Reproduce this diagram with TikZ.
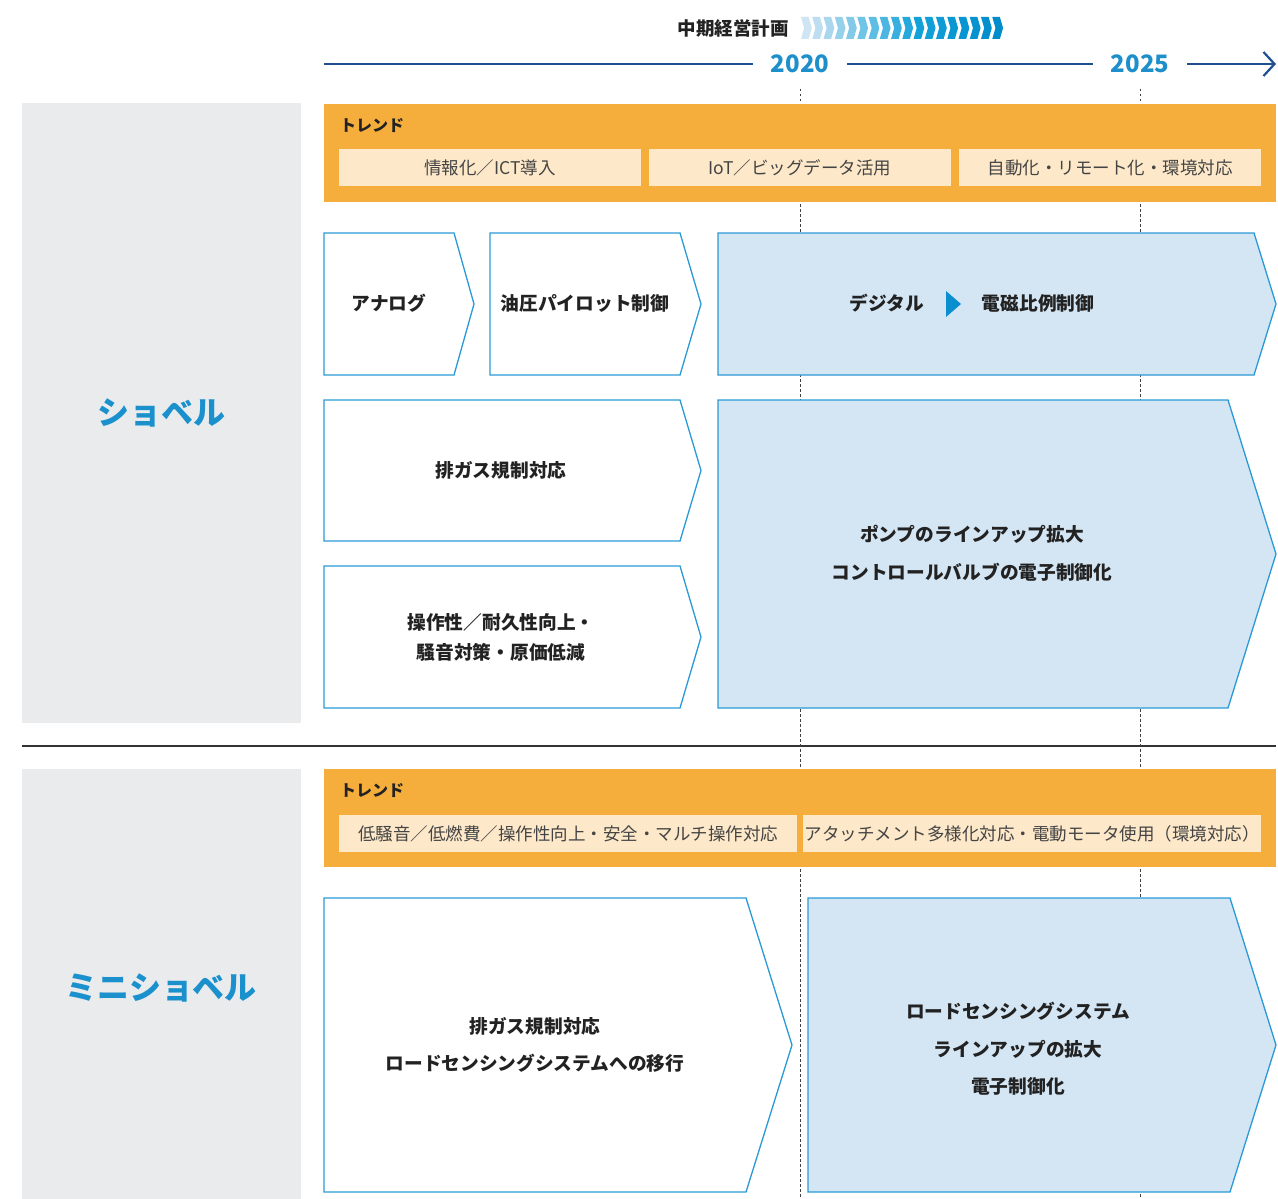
\documentclass[tikz,border=0pt]{standalone}
\usepackage{fontspec}
\setmainfont{Noto Sans CJK JP}
\usetikzlibrary{arrows.meta}
\definecolor{trendorange}{HTML}{F5AD3B}
\definecolor{trendlight}{HTML}{FDE8C9}
\definecolor{panelgrey}{HTML}{E9EBED}
\definecolor{boxblue}{HTML}{D4E6F4}
\definecolor{boxline}{HTML}{2A9AD6}
\definecolor{labelblue}{HTML}{1A90CD}
\definecolor{timeblue}{HTML}{1D4F91}
\definecolor{yearblue}{HTML}{1E8FCB}
\definecolor{triblue}{HTML}{0A8ECF}
\definecolor{txtdark}{HTML}{222222}
\definecolor{txtgrey}{HTML}{444444}
\definecolor{chevlight}{HTML}{CFE5F3}
\definecolor{chevmid}{HTML}{12A2D9}
\definecolor{chevdark}{HTML}{008CCB}
\tikzset{
  chevwhite/.style={draw=boxline, line width=1.3pt, fill=white, line join=miter},
  chevblue/.style={draw=boxline, line width=1.3pt, fill=boxblue, line join=miter},
  boxtxt/.style={text=txtdark, font=\fontsize{18.7}{38}\selectfont\bfseries, align=center, inner sep=0pt},
  subbox/.style={fill=trendlight, text=txtgrey, font=\fontsize{17.5}{20}\selectfont, inner sep=0pt, minimum height=37pt},
  trendlbl/.style={text=txtdark, font=\fontsize{16}{18}\selectfont\bfseries, anchor=west, inner sep=0pt},
  sidelbl/.style={text=labelblue, font=\fontsize{32}{36}\selectfont\bfseries, inner sep=0pt},
  yearlbl/.style={text=yearblue, font=\fontsize{24}{26}\selectfont\bfseries, inner xsep=18pt, inner ysep=0pt},
  timeline/.style={draw=timeblue, line width=2.2pt},
  dottedyear/.style={draw=black!75, line width=0.8pt, dash pattern=on 2.5pt off 2.5pt}
}
\begin{document}
\begin{tikzpicture}[x=1pt,y=-1pt]
\useasboundingbox (0,0) rectangle (1278,1199);
\fill[white] (0,0) rectangle (1278,1199);

% grey side panels
\fill[panelgrey] (22,103) rectangle (301,723);
\fill[panelgrey] (22,769) rectangle (301,1199);
\node[sidelbl] (lblshovel) at (161,413) {ショベル};
\node[sidelbl] (lblmini) at (161,988) {ミニショベル};

% separator
\draw[black!80, line width=1.5pt] (22,746) -- (1276,746);

% header
\node[text=txtdark, font=\fontsize{18.5}{20}\selectfont\bfseries, inner sep=0pt] (plan) at (733,28) {中期経営計画};
\foreach \i in {0,...,10}{
  \pgfmathsetmacro\pct{100*\i/10}
  \pgfmathsetmacro\xx{801+11.25*\i}
  \fill[chevmid!\pct!chevlight] (\xx,17) -- ++(7.6,0) -- ++(3.2,11) -- ++(-3.2,11) -- ++(-7.6,0) -- ++(3.2,-11) -- cycle;
}
\foreach \i in {11,...,17}{
  \pgfmathsetmacro\pct{100*(\i-10)/7}
  \pgfmathsetmacro\xx{801+11.25*\i}
  \fill[chevdark!\pct!chevmid] (\xx,17) -- ++(7.6,0) -- ++(3.2,11) -- ++(-3.2,11) -- ++(-7.6,0) -- ++(3.2,-11) -- cycle;
}

% timeline
\node[yearlbl] (y2020) at (800,64) {2020};
\node[yearlbl] (y2025) at (1140,64) {2025};
\coordinate (tlstart) at (324,64);
\coordinate (tlend) at (1276,64);
\draw[timeline] (tlstart) -- (y2020.west);
\draw[timeline] (y2020.east) -- (y2025.west);
\draw[timeline, -{Straight Barb[length=11pt,width=24pt,line width=2.2pt]}] (y2025.east) -- (tlend);

% dotted year guides
\coordinate (d20top) at (800,89);
\coordinate (d20bot) at (800,1199);
\coordinate (d25top) at (1140,89);
\coordinate (d25bot) at (1140,1199);
\draw[dottedyear] (d20top) -- (d20bot);
\draw[dottedyear] (d25top) -- (d25bot);

% trend band 1
\fill[trendorange] (324,104) rectangle (1276,202);
\node[trendlbl] (trend1) at (340,126) {トレンド};
\node[subbox, minimum width=302pt] (t1a) at (490,167.5) {情報化／ICT導入};
\node[subbox, minimum width=302pt] (t1b) at (800,167.5) {IoT／ビッグデータ活用};
\node[subbox, minimum width=302pt] (t1c) at (1110,167.5) {自動化・リモート化・環境対応};

% shovel row 1
\draw[chevwhite] (324,233) -- (454,233) -- (474,304) -- (454,375) -- (324,375) -- cycle;
\draw[chevwhite] (490,233) -- (680,233) -- (701,304) -- (680,375) -- (490,375) -- cycle;
\draw[chevblue] (718,233) -- (1254,233) -- (1276,304) -- (1254,375) -- (718,375) -- cycle;
\node[boxtxt] (analog) at (389,303) {アナログ};
\node[boxtxt] (pilot) at (585,303) {油圧パイロット制御};
\node[boxtxt] (digital) at (887,303) {デジタル};
\fill[triblue] (946,291) -- (961,304) -- (946,317) -- cycle;
\node[boxtxt] (epc) at (1038,303) {電磁比例制御};

% shovel rows 2-3
\draw[chevwhite] (324,400) -- (680,400) -- (701,470.5) -- (680,541) -- (324,541) -- cycle;
\draw[chevwhite] (324,566) -- (680,566) -- (701,637) -- (680,708) -- (324,708) -- cycle;
\draw[chevblue] (718,400) -- (1228,400) -- (1276,554) -- (1228,708) -- (718,708) -- cycle;
\node[boxtxt] (exhaust1) at (501,470) {排ガス規制対応};
\node[boxtxt, font=\fontsize{18.7}{30}\selectfont\bfseries] (oper) at (501,637) {操作性／耐久性向上・\\騒音対策・原価低減};
\node[boxtxt] (pump) at (972,553) {ポンプのラインアップ拡大\\コントロールバルブの電子制御化};

% trend band 2
\fill[trendorange] (324,769) rectangle (1276,867);
\node[trendlbl] (trend2) at (340,791) {トレンド};
\node[subbox, minimum width=458pt] (t2a) at (568,833.5) {低騒音／低燃費／操作性向上・安全・マルチ操作対応};
\node[subbox, minimum width=458pt] (t2b) at (1032,833.5) {アタッチメント多様化対応・電動モータ使用（環境対応）};

% mini shovel row
\draw[chevwhite] (324,898) -- (746,898) -- (792,1045) -- (746,1192) -- (324,1192) -- cycle;
\draw[chevblue] (808,898) -- (1230,898) -- (1276,1045) -- (1230,1192) -- (808,1192) -- cycle;
\node[boxtxt, font=\fontsize{18.7}{37}\selectfont\bfseries] (exhaust2) at (535,1045) {排ガス規制対応\\ロードセンシングシステムへの移行};
\node[boxtxt, font=\fontsize{18.7}{37.5}\selectfont\bfseries] (loadsense) at (1018,1049) {ロードセンシングシステム\\ラインアップの拡大\\電子制御化};
\end{tikzpicture}
\end{document}
